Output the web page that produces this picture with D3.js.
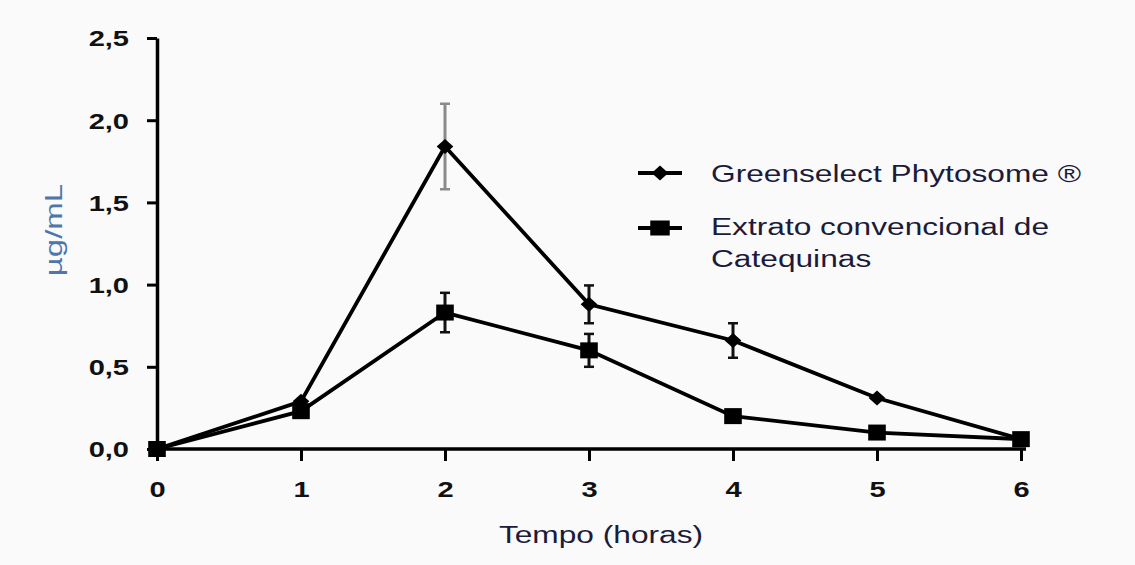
<!DOCTYPE html>
<html>
<head>
<meta charset="utf-8">
<script src="https://cdn.jsdelivr.net/npm/d3@7"></script>
<style>
  body { margin: 0; background: #fafafa; }
  svg { display: block; }
</style>
</head>
<body>
<div id="chart"></div>
<script>
// Data
var times = [0, 1, 2, 3, 4, 5, 6];
var greenselect = [0, 0.29, 1.84, 0.88, 0.66, 0.31, 0.06];
var greenselectErr = [0, 0, 0.26, 0.115, 0.105, 0, 0];
var extrato = [0, 0.23, 0.83, 0.60, 0.20, 0.10, 0.06];
var extratoErr = [0, 0, 0.12, 0.10, 0, 0, 0];

var xTicks = [0, 1, 2, 3, 4, 5, 6];
var yTicks = [0, 0.5, 1.0, 1.5, 2.0, 2.5];
var legendLabels = ["Greenselect Phytosome \u00ae", ["Extrato convencional de", "Catequinas"]];
var xTitle = "Tempo (horas)";
var yTitle = "\u00b5g/mL";

var width = 1135, height = 565;
var stretch = 1.32; // the picture is widened horizontally
var textColor = "#1c1b3a";

var svg = d3.select("#chart").append("svg")
    .attr("width", width)
    .attr("height", height)
    .style("background", "#fafafa");

// Scales
var x = d3.scaleLinear().domain([0, 6]).range([157, 1021]);
var y = d3.scaleLinear().domain([0, 2.5]).range([449, 38]);

var fmt = d3.formatLocale({decimal: ",", thousands: ".", grouping: [3], currency: ["", ""]}).format(".1f");

// Y axis
var yAxis = svg.append("g")
    .attr("transform", "translate(" + x(0) + ",0)")
    .call(d3.axisLeft(y).tickValues(yTicks).tickSize(10).tickSizeOuter(0).tickFormat(fmt));
yAxis.select(".domain").attr("stroke", "#000").attr("stroke-width", 3.5);
yAxis.selectAll(".tick line").attr("stroke", "#000").attr("stroke-width", 3);
yAxis.selectAll(".tick text")
    .attr("x", 0)
    .attr("dy", "0.36em")
    .attr("transform", "translate(-28,0) scale(" + stretch + ",1)")
    .attr("text-anchor", "end")
    .style("font-family", "Liberation Sans, Arial, sans-serif")
    .style("font-size", "22px")
    .style("font-weight", "bold")
    .attr("fill", "#111");

// X axis
var xAxis = svg.append("g")
    .attr("transform", "translate(0," + y(0) + ")")
    .call(d3.axisBottom(x).tickValues(xTicks).tickSize(12).tickSizeOuter(0).tickFormat(d3.format("d")));
xAxis.select(".domain").attr("stroke", "#000").attr("stroke-width", 3.5)
    .attr("d", "M" + (x(0) - 2) + ",0H" + (x(6) + 5));
xAxis.selectAll(".tick line").attr("stroke", "#000").attr("stroke-width", 3);
xAxis.selectAll(".tick text")
    .attr("y", 0)
    .attr("dy", 0)
    .attr("transform", "translate(0,48) scale(" + stretch + ",1)")
    .style("font-family", "Liberation Sans, Arial, sans-serif")
    .style("font-size", "22px")
    .style("font-weight", "bold")
    .attr("fill", "#111");

// Axis titles
svg.append("text")
    .attr("transform", "translate(601,543) scale(" + stretch + ",1)")
    .attr("text-anchor", "middle")
    .style("font-family", "Liberation Sans, Arial, sans-serif")
    .style("font-size", "24px")
    .attr("fill", textColor)
    .text(xTitle);

svg.append("text")
    .attr("transform", "translate(62,230) rotate(-90) scale(1,0.72)")
    .attr("text-anchor", "middle")
    .style("font-family", "Liberation Sans, Arial, sans-serif")
    .style("font-size", "33px")
    .attr("fill", "#4f76aa")
    .text(yTitle);

// Series
function makeData(vals, errs) {
    var out = [];
    for (var i = 0; i < times.length; i++) {
        out.push({t: times[i], v: vals[i], e: errs[i]});
    }
    return out;
}
var gData = makeData(greenselect, greenselectErr);
var eData = makeData(extrato, extratoErr);

var line = d3.line()
    .x(d => x(d.t))
    .y(d => y(d.v));

var diamond = d3.symbol().type(d3.symbolSquare).size(115);
var square = d3.symbol().type(d3.symbolSquare).size(256);

function drawErrors(data, color) {
    var g = svg.append("g");
    data.filter(d => d.e > 0).forEach(function(d) {
        var cx = x(d.t);
        g.append("line")
            .attr("x1", cx).attr("x2", cx)
            .attr("y1", y(d.v + d.e)).attr("y2", y(d.v - d.e))
            .attr("stroke", color(d)).attr("stroke-width", 3);
        [d.v + d.e, d.v - d.e].forEach(function(v) {
            g.append("line")
                .attr("x1", cx - 5).attr("x2", cx + 5)
                .attr("y1", y(v)).attr("y2", y(v))
                .attr("stroke", color(d)).attr("stroke-width", 2.5);
        });
    });
}

drawErrors(gData, d => d.t === 2 ? "#8a8a8a" : "#111");
drawErrors(eData, d => "#111");

svg.append("path")
    .attr("d", line(gData))
    .attr("fill", "none")
    .attr("stroke", "#000")
    .attr("stroke-width", 3.8);

svg.append("path")
    .attr("d", line(eData))
    .attr("fill", "none")
    .attr("stroke", "#000")
    .attr("stroke-width", 3.8);

svg.append("g").selectAll("path")
    .data(gData)
    .join("path")
    .attr("d", diamond)
    .attr("transform", d => "translate(" + x(d.t) + "," + y(d.v) + ") scale(1.1,1) rotate(45)")
    .attr("fill", "#000");

svg.append("g").selectAll("path")
    .data(eData)
    .join("path")
    .attr("d", square)
    .attr("transform", d => "translate(" + x(d.t) + "," + y(d.v) + ") scale(1.1,1)")
    .attr("fill", "#000");

// Legend
var legend = svg.append("g");
legend.append("line")
    .attr("x1", 638).attr("x2", 682).attr("y1", 173).attr("y2", 173)
    .attr("stroke", "#000").attr("stroke-width", 3.8);
legend.append("path")
    .attr("d", diamond)
    .attr("transform", "translate(660,173) scale(1.1,1) rotate(45)")
    .attr("fill", "#000");
legend.append("line")
    .attr("x1", 638).attr("x2", 682).attr("y1", 228).attr("y2", 228)
    .attr("stroke", "#000").attr("stroke-width", 3.8);
legend.append("path")
    .attr("d", d3.symbol().type(d3.symbolSquare).size(225))
    .attr("transform", "translate(660,228) scale(1.3,1)")
    .attr("fill", "#000");

legend.append("text")
    .attr("transform", "translate(711,182) scale(" + stretch + ",1)")
    .style("font-family", "Liberation Sans, Arial, sans-serif")
    .style("font-size", "24px")
    .attr("fill", textColor)
    .text(legendLabels[0]);

legendLabels[1].forEach(function(s, i) {
    legend.append("text")
        .attr("transform", "translate(711," + (235 + i * 32) + ") scale(" + stretch + ",1)")
        .style("font-family", "Liberation Sans, Arial, sans-serif")
        .style("font-size", "24px")
        .attr("fill", textColor)
        .text(s);
});
</script>
</body>
</html>
